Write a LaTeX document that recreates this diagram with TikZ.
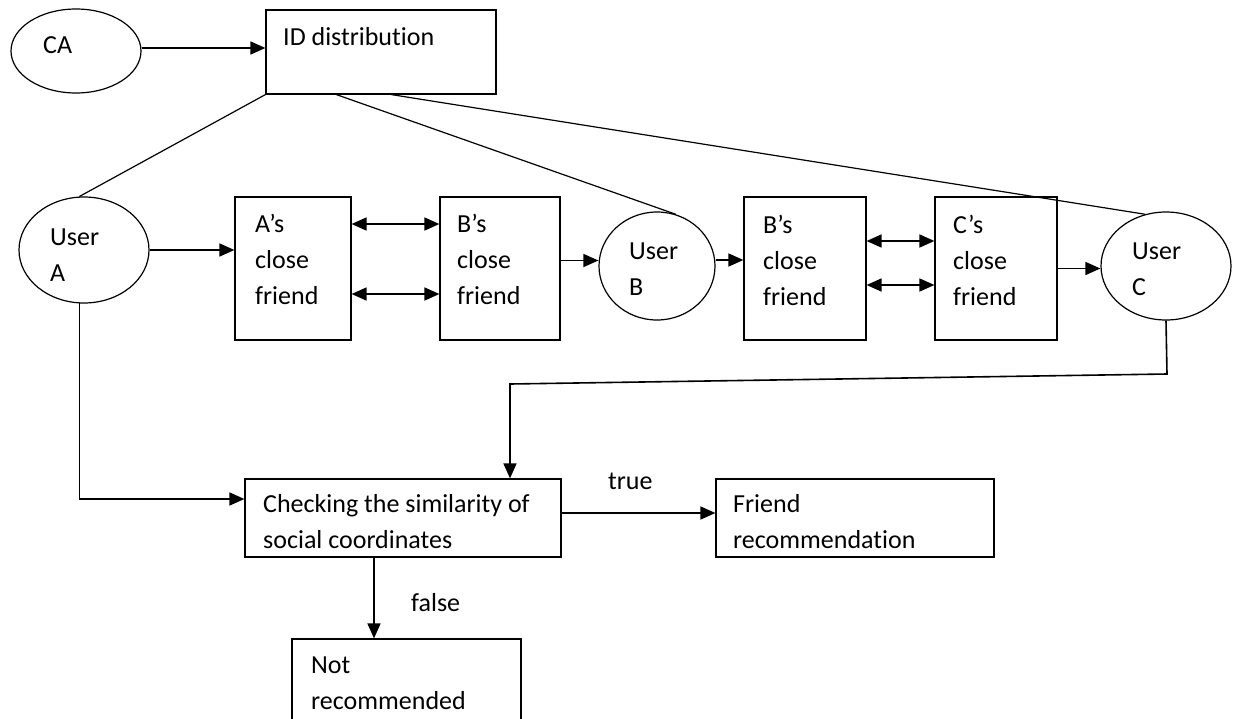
\documentclass[tikz,border=0pt]{standalone}
\usepackage{fontspec}
\setmainfont[RawFeature={-liga}]{Carlito}
\usetikzlibrary{arrows.meta,shapes.geometric}
\begin{document}
\begin{tikzpicture}[x=1pt,y=-1pt,
  shp/.style={draw, inner sep=0pt, line width=1.2pt},
  bx/.style={shp, rectangle},
  ell/.style={shp, ellipse},
  txt/.style={anchor=north west, inner sep=0pt, align=left, font=\fontsize{26}{36}\selectfont},
  arr/.style={-{Triangle[length=15pt,width=13pt]}, line width=1.6pt},
  dbl/.style={{Triangle[length=15pt,width=13pt]}-{Triangle[length=15pt,width=13pt]}, line width=1.6pt},
  ln/.style={line width=1.2pt}]
\useasboundingbox (0,0) rectangle (1234,718);
\fill[white] (0,0) rectangle (1234,718);
\clip (0,0) rectangle (1234,718);
% shapes
\node[ell, minimum width=130pt, minimum height=84pt] (ca) at (76,51) {};
\node[bx, minimum width=230pt, minimum height=84pt] (id) at (381,52) {};
\node[ell, minimum width=130pt, minimum height=106pt] (uA) at (84,250) {};
\node[bx, minimum width=116pt, minimum height=143pt] (aF) at (293,268.5) {};
\node[bx, minimum width=120pt, minimum height=143pt] (bF) at (500,268.5) {};
\node[ell, minimum width=116pt, minimum height=108pt] (uB) at (657,266) {};
\node[bx, minimum width=122pt, minimum height=143pt] (bF2) at (805,268.5) {};
\node[bx, minimum width=122pt, minimum height=143pt] (cF) at (996,268.5) {};
\node[ell, minimum width=130pt, minimum height=108pt] (uC) at (1166,266) {};
\node[bx, minimum width=316pt, minimum height=78pt] (chk) at (403,518) {};
\node[bx, minimum width=278pt, minimum height=78pt] (fr) at (855,518) {};
\node[bx, minimum width=229pt, minimum height=106pt] (nr) at (406.5,692) {};
% texts
\node[txt] (tca) at (43,27.8) {\strut CA};
\node[txt] (tid) at (283,19.8) {\strut ID distribution};
\node[txt] (tuA) at (50,219.8) {\strut User\\A};
\node[txt] (taF) at (255,206.8) {\strut A’s\\close\\friend};
\node[txt] (tbF) at (457,206.8) {\strut B’s\\close\\friend};
\node[txt] (tuB) at (629,233.8) {\strut User\\B};
\node[txt] (tbF2) at (763,207.8) {\strut B’s\\close\\friend};
\node[txt] (tcF) at (953,207.8) {\strut C’s\\close\\friend};
\node[txt] (tuC) at (1132,233.8) {\strut User\\C};
\node[txt] (tchk) at (263,486.8) {\strut Checking the similarity of\\social coordinates};
\node[txt] (tfr) at (733,486.8) {\strut Friend\\recommendation};
\node[txt] (tnr) at (311,647.8) {\strut Not\\recommended};
\node[txt] (ttrue) at (608,463.8) {\strut true};
\node[txt] (tfalse) at (411,585.8) {\strut false};
% lines from ID distribution
\draw[ln] (id.south west) -- (uA.95);
\draw[ln] ([xshift=71pt]id.south west) -- (uB.70);
\draw[ln] ([xshift=126pt]id.south west) -- (uC.112);
% arrows
\draw[arr] ([yshift=3pt]ca.east) -- ([yshift=3pt]ca.east -| id.west);
\draw[arr] (uA.east) -- (uA.east -| aF.west);
\draw[dbl] ([yshift=44.5pt]aF.east) -- ([yshift=44.5pt]bF.west);
\draw[dbl] ([yshift=-25.5pt]aF.east) -- ([yshift=-25.5pt]bF.west);
\draw[arr] ([yshift=8pt]bF.east) -- ([yshift=8pt]bF.east -| uB.west);
\draw[arr] ([yshift=6pt]uB.east) -- ([yshift=6pt]uB.east -| bF2.west);
\draw[dbl] ([yshift=27.5pt]bF2.east) -- ([yshift=27.5pt]cF.west);
\draw[dbl] ([yshift=-16.5pt]bF2.east) -- ([yshift=-16.5pt]cF.west);
\draw[arr] (cF.east) -- (cF.east -| uC.west);
\coordinate (c1) at (1167,374);
\coordinate (c2) at (510,384);
\draw[arr] (uC.south) -- (c1) -- (c2) -- (c2 |- chk.north);
\draw[arr] (uA.265) |- ([yshift=19pt]chk.west);
\draw[arr] ([yshift=5pt]chk.east) -- ([yshift=5pt]chk.east -| fr.west);
\draw[arr] ([xshift=-29pt]chk.south) -- ([xshift=-29pt]chk.south |- nr.north);
\end{tikzpicture}
\end{document}
